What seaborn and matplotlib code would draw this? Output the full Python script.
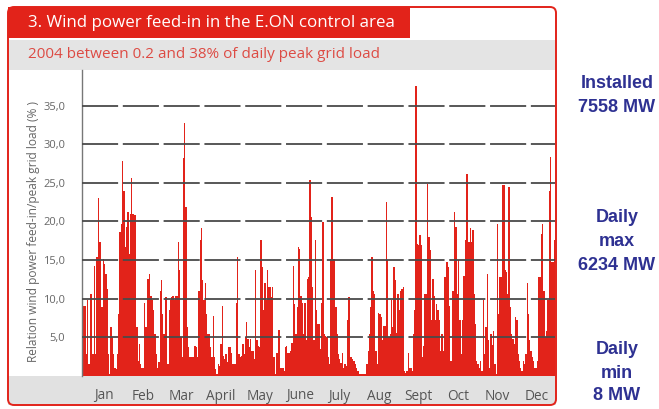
import numpy as np
import pandas as pd
import matplotlib
matplotlib.use("Agg")
import matplotlib.pyplot as plt
import seaborn as sns
from matplotlib.patches import Rectangle, FancyBboxPatch

# daily wind feed-in 2004 in % of daily peak grid load
jan_mar = [9.1, 9.1, 9.1, 2.8, 9.8, 1.5, 10.6, 10.6, 2.8, 14.3, 2.8, 15.4, 23.0, 17.3, 17.3, 8.9,
           15.2, 14.5, 13.2, 11.3, 2.8, 0.2, 6.3, 5.0, 2.8, 1.0, 0.9, 2.8, 8.0, 18.6, 19.7, 27.8,
           24.0, 16.7, 19.3, 21.2, 15.8, 21.0, 25.6, 21.0, 20.8, 20.8, 6.3, 2.0, 4.1, 1.5, 1.0, 1.0,
           9.5, 6.3, 12.6, 12.6, 13.2, 10.4, 9.8, 8.5, 5.4, 2.8, 1.0, 1.8, 11.0, 12.4, 8.0, 5.4,
           10.2, 10.2, 1.5, 8.5, 9.8, 10.2, 10.4, 9.8]
mar_may = [10.4, 10.4, 17.3, 13.7, 5.0, 2.4, 28.2, 32.7, 21.9, 6.3, 3.7, 2.4, 2.4, 2.4, 2.4, 3.9,
           3.7, 2.4, 11.0, 17.6, 19.1, 12.4, 9.8, 12.1, 8.0, 5.4, 5.4, 3.7, 2.4, 7.8, 2.4, 0.9,
           0.2, 1.5, 1.3, 4.1, 9.1, 2.6, 2.2, 2.8, 1.8, 3.7, 3.7, 3.0, 1.5, 1.5, 1.5, 9.5, 15.4,
           2.8, 2.4, 2.6, 4.1, 2.8, 5.0, 7.0, 4.8, 3.7, 4.8, 3.3, 3.3, 2.2, 13.7, 4.6, 3.9, 3.7,
           17.6, 14.1, 8.5, 12.1, 9.8, 13.7, 11.5]
may_aug = [11.5, 10.2, 11.5, 2.4, 0.2, 3.0, 3.0, 6.0, 1.0, 1.0, 1.0, 0.6, 3.7, 3.9, 3.0, 3.0,
           3.3, 4.3, 14.3, 9.3, 5.4, 8.9, 16.7, 16.5, 10.4, 9.5, 5.4, 9.5, 4.6, 12.6, 12.8, 25.4,
           20.6, 11.5, 4.6, 17.6, 8.5, 6.7, 6.7, 3.5, 9.5, 19.9, 5.4, 5.2, 5.0, 2.4, 1.5, 15.2,
           23.2, 15.2, 15.2, 8.9, 5.4, 2.8, 2.2, 1.7, 3.0, 1.0, 1.5, 1.3, 7.2, 10.2, 2.4, 2.4,
           2.2, 1.9, 1.5, 1.0, 0.6, 0.2, 0.2, 0.3, 0.2, 0.2, 0.2, 1.5]
aug_oct = [3.3, 5.4, 8.9, 15.4, 11.0, 10.6, 3.3, 1.5, 8.2, 8.0, 7.6, 4.6, 6.5, 6.5, 22.5, 15.0,
           5.0, 5.4, 9.8, 6.3, 14.1, 12.4, 5.6, 10.6, 8.5, 11.0, 11.3, 11.5, 0.6, 0.4, 0.6, 3.0,
           1.0, 1.0, 0.6, 5.4, 8.5, 37.5, 17.1, 16.9, 18.2, 16.9, 2.4, 3.9, 10.6, 10.6, 24.9,
           18.0, 16.3, 7.2, 12.6, 10.4, 7.2, 9.3, 8.5, 7.2, 3.3, 5.4, 3.3, 12.8, 12.8, 14.7, 14.1,
           9.1, 2.0, 11.0, 11.0, 21.2, 19.3, 10.6, 15.0, 7.2, 2.8]
oct_dec = [7.2, 13.0, 17.6, 26.2, 26.2, 17.3, 19.1, 17.3, 18.9, 10.6, 6.7, 2.0, 1.5, 1.0, 2.0,
           0.6, 9.8, 2.8, 6.3, 13.2, 4.6, 1.0, 5.4, 4.0, 5.8, 1.5, 0.2, 19.7, 8.0, 12.8, 12.8,
           24.7, 24.7, 13.7, 13.5, 10.6, 24.5, 8.9, 5.4, 4.8, 4.1, 7.6, 7.2, 2.8, 2.0, 1.0, 0.6,
           2.0, 1.5, 2.8, 12.1, 8.0, 4.6, 3.3, 2.4, 2.0, 1.0, 1.0, 2.0, 12.8, 12.8, 18.4, 19.7,
           11.0, 5.0, 5.8, 9.8, 23.9, 28.4, 14.7, 14.7, 17.6]

month_names = ["Jan", "Feb", "Mar", "April", "May", "June", "July", "Aug", "Sept", "Oct", "Nov", "Dec"]
month_days = [31, 29, 31, 30, 31, 30, 31, 31, 30, 31, 30, 31]
y_ticks = [5, 10, 15, 20, 25, 30, 35]

share = jan_mar + mar_may + may_aug + aug_oct + oct_dec
df = pd.DataFrame({"day": np.arange(len(share)), "share": share})

W, H = 659, 409
RED = "#e2231a"
GREY_TXT = "#666666"
BLUE = "#2e3192"

sns.set_style("white")
plt.rcParams["font.family"] = ["Open Sans", "DejaVu Sans"]

fig = plt.figure(figsize=(W / 100, H / 100), dpi=100)


def box(x0, y0, x1, y1):
    # pixel box (origin top left) -> figure fractions
    return [x0 / W, 1 - y1 / H, (x1 - x0) / W, (y1 - y0) / H]


# frame, header bands and side notes in pixel coordinates (drawn below the plot)
ov = fig.add_axes([0, 0, 1, 1], zorder=0)
ov.set_xlim(0, W)
ov.set_ylim(H, 0)
ov.axis("off")

ov.add_patch(Rectangle((8, 7), 402, 31, color=RED, lw=0))
ov.add_patch(Rectangle((8, 40), 548, 30, color="#e4e4e4", lw=0))
ov.add_patch(Rectangle((8, 376), 548, 29, color="#e1e1e1", lw=0))
ov.add_patch(FancyBboxPatch((8, 7), 548, 398, boxstyle="round,pad=0,rounding_size=6",
                            fill=False, ec=RED, lw=1.4))

ov.text(28, 23, "3. Wind power feed-in in the E.ON control area", color="white",
        fontsize=12.2, va="center", ha="left")
ov.text(28, 55, "2004 between 0.2 and 38% of daily peak grid load", color="#dd4b44",
        fontsize=11, va="center", ha="left")
ov.text(34, 231, "Relation wind power feed-in/peak grid load (% )", rotation=90,
        color=GREY_TXT, fontsize=8.6, ha="center", va="center")

side_notes = [(83, "Installed"), (108, "7558 MW"), (218, "Daily"), (242, "max"),
              (265, "6234 MW"), (350, "Daily"), (373, "min"), (395, "8 MW")]
for y, txt in side_notes:
    ov.text(617, y, txt, color=BLUE, fontsize=13, fontweight="bold",
            family=["Liberation Sans", "DejaVu Sans"], ha="center", va="center")

ax = fig.add_axes(box(82, 70, 555, 376), zorder=2)
sns.barplot(data=df, x="day", y="share", native_scale=True, color=RED, saturation=1,
            width=1.0, linewidth=0, errorbar=None, ax=ax)
ax.set_xlim(-0.5, len(share) - 0.5)
ax.set_ylim(0, 39.6)

starts = np.cumsum([0] + month_days[:-1])
centers = starts + np.array(month_days) / 2 + 1
ax.set_xticks(centers, month_names)
ax.set_yticks(y_ticks, [f"{v:.1f}".replace(".", ",") for v in y_ticks])
ax.tick_params(axis="x", length=0, pad=9, labelsize=9.8, labelcolor="#555555")
ax.tick_params(axis="y", length=0, pad=12, labelsize=8, labelcolor=GREY_TXT)
ax.set_xlabel("")
ax.set_ylabel("")

ax.grid(axis="y", color="#4a4a4a", lw=1.3, linestyle=(0, (20, 2.6)))
ax.grid(axis="x", visible=False)
ax.set_axisbelow(False)
for side in ["top", "right", "bottom"]:
    ax.spines[side].set_visible(False)
ax.spines["left"].set_color("#777777")
ax.spines["left"].set_linewidth(1)

fig.savefig("out.png", dpi=100)
